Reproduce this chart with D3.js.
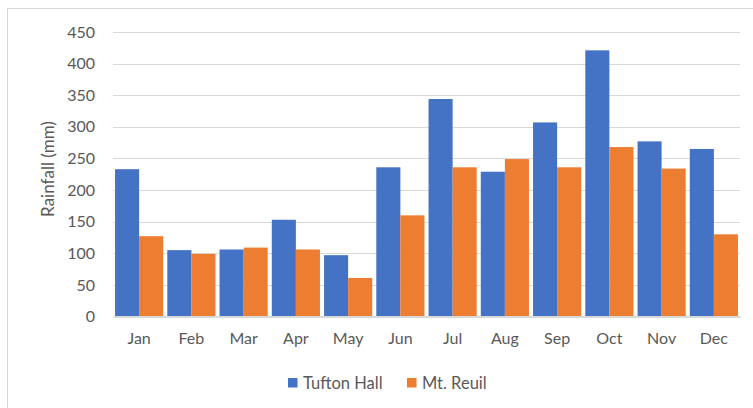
<!DOCTYPE html>
<html>
<head>
<meta charset="utf-8">
<script src="https://cdn.jsdelivr.net/npm/d3@7"></script>
<style>
  html, body { margin: 0; padding: 0; background: #fff; }
  svg { display: block; font-family: Lato, "Open Sans", sans-serif; }
</style>
</head>
<body>
<svg id="chart" width="753" height="408"></svg>
<script>
// Monthly rainfall at two stations
const months = ["Jan", "Feb", "Mar", "Apr", "May", "Jun", "Jul", "Aug", "Sep", "Oct", "Nov", "Dec"];
const tuftonHall = [233, 105, 106, 153, 97, 236, 344, 229, 307, 421, 277, 265];
const mtReuil = [127, 99, 109, 106, 61, 160, 236, 249, 236, 268, 234, 130];
const seriesNames = ["Tufton Hall", "Mt. Reuil"];
const seriesColors = ["#4472C4", "#ED7D31"];
const yTicks = [0, 50, 100, 150, 200, 250, 300, 350, 400, 450];

const svg = d3.select("#chart");
const W = 753, H = 408;
const margin = { left: 113, right: 13, top: 32, bottom: 91.5 };
const textColor = "#595959";
const gridColor = "#d9d9d9";
const fontFamily = "Lato, 'Open Sans', sans-serif";

// Chart frame
svg.append("rect")
  .attr("x", 7.5).attr("y", 8.5)
  .attr("width", W).attr("height", H)
  .attr("fill", "none").attr("stroke", gridColor).attr("stroke-width", 1);

const x = d3.scaleBand().domain(months)
  .range([margin.left, W - margin.right]).padding(0);
const y = d3.scaleLinear().domain([0, 450])
  .range([H - margin.bottom, margin.top]);

const inner = d3.scaleBand().domain(seriesNames)
  .range([0, x.bandwidth()]).paddingInner(0).paddingOuter(0.085);

// Gridlines
svg.append("g").selectAll("line")
  .data(yTicks.filter(t => t > 0))
  .join("line")
  .attr("x1", margin.left).attr("x2", W - margin.right)
  .attr("y1", d => Math.round(y(d)) + 0.5).attr("y2", d => Math.round(y(d)) + 0.5)
  .attr("stroke", gridColor).attr("stroke-width", 1.2);

// Y tick labels
const yAxis = d3.axisLeft(y).tickValues(yTicks).tickSize(0).tickPadding(18);
const gy = svg.append("g").attr("transform", `translate(${margin.left},0)`).call(yAxis);
gy.select(".domain").remove();
gy.selectAll("text")
  .attr("fill", textColor).style("font-size", "16px").style("font-family", fontFamily);

// Bars
const data = months.map((m, i) => ({ month: m, values: [tuftonHall[i], mtReuil[i]] }));
const groups = svg.append("g").selectAll("g")
  .data(data).join("g")
  .attr("transform", d => `translate(${x(d.month)},0)`);
groups.selectAll("rect")
  .data(d => d.values.map((v, k) => ({ name: seriesNames[k], value: v, k })))
  .join("rect")
  .attr("x", d => inner(d.name))
  .attr("width", inner.bandwidth())
  .attr("y", d => y(d.value))
  .attr("height", d => y(0) - y(d.value))
  .attr("fill", d => seriesColors[d.k]);

// Baseline axis with month labels
const xAxis = d3.axisBottom(x).tickSize(0).tickPadding(16);
const gx = svg.append("g").attr("transform", `translate(0,${y(0)})`).call(xAxis);
gx.select(".domain").attr("stroke", gridColor).attr("stroke-width", 1.8);
gx.selectAll("text")
  .attr("fill", textColor).style("font-size", "16px").style("font-family", fontFamily);

// Y axis title
svg.append("text")
  .attr("transform", `translate(54,169) rotate(-90)`)
  .attr("text-anchor", "middle")
  .attr("fill", textColor)
  .style("font-size", "17px")
  .text("Rainfall (mm)");

// Legend
const legend = svg.append("g").attr("transform", "translate(288,378)");
const legendX = [0, 119];
seriesNames.forEach((name, k) => {
  const g = legend.append("g").attr("transform", `translate(${legendX[k]},0)`);
  g.append("rect").attr("width", 9.5).attr("height", 9.5).attr("fill", seriesColors[k]);
  g.append("text").attr("x", 15).attr("y", 10.5)
    .attr("fill", textColor).style("font-size", "16.5px").text(name);
});
</script>
</body>
</html>
